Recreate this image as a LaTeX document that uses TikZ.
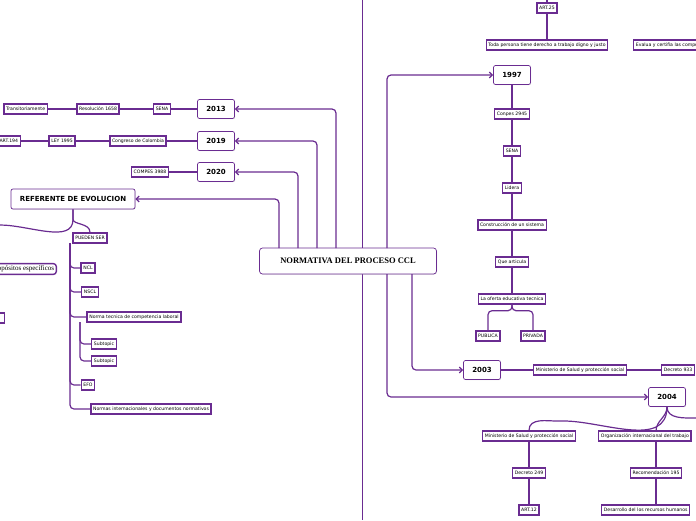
\documentclass[tikz,border=0pt]{standalone}
\usepackage{fontspec}
\setmainfont{DejaVu Sans}
\newfontfamily\titlefont{Liberation Serif}
\usetikzlibrary{positioning,shadows,arrows.meta}
\definecolor{violeta}{HTML}{6A2C91}

\begin{document}
\begin{tikzpicture}[x=1pt,y=-1pt,
    tema/.style={draw=violeta,line width=1.4pt,fill=white,inner sep=2.2pt,
                 font=\fontsize{4.6}{5}\selectfont,minimum height=10pt},
    anio/.style={draw=violeta,line width=0.7pt,rounded corners=2pt,fill=white,
                 drop shadow={opacity=0.25,shadow xshift=0.5pt,shadow yshift=-0.7pt},
                 font=\fontsize{7}{8}\selectfont\bfseries,minimum width=37pt,minimum height=19pt},
    lazo/.style={draw=violeta,line width=1.2pt,rounded corners=4pt},
    flecha/.style={lazo,-{Straight Barb[length=3pt,width=6pt]}}]
  \useasboundingbox (0,0) rectangle (696,520);
  \clip (0,0) rectangle (696,520);

  \draw[violeta,line width=1pt] (362,0) -- (362,520);

  % centro
  \node[draw=violeta,line width=0.7pt,rounded corners=3pt,fill=white,
        drop shadow={opacity=0.25,shadow xshift=0.5pt,shadow yshift=-0.7pt},
        minimum width=177pt,minimum height=26pt,font=\titlefont\fontsize{8.5}{9}\selectfont\bfseries]
        (centro) at (348,261) {NORMATIVA DEL PROCESO CCL};

  % izquierda
  \node[anio] (a2013) at (216,109) {2013};
  \node[anio] (a2019) at (216,141) {2019};
  \node[anio] (a2020) at (216,172) {2020};
  \node[anio,minimum width=124pt,minimum height=20pt] (referente) at (73,199) {REFERENTE DE EVOLUCION};

  \node[tema] (sena1) at (162,109) {SENA};
  \node[tema] (resol) at (98,109) {Resolución 1658};
  \node[tema,anchor=east] (transit) at (48,109) {Transitoriamente};
  \node[tema] (congreso) at (138,141) {Congreso de Colombia};
  \node[tema] (ley) at (62,141) {LEY 1995};
  \node[tema,anchor=east] (art194) at (21,141) {ART.194};
  \node[tema] (compes) at (150,172) {COMPES 3988};

  \draw[flecha] (336,248) |- (a2013.east);
  \draw[flecha] (317,248) |- (a2019.east);
  \draw[flecha] (298,248) |- (a2020.east);
  \draw[flecha] (279,248) |- (referente.east);
  \draw[lazo] (a2013) -- (sena1) -- (resol) -- (transit);
  \draw[lazo] (a2019) -- (congreso) -- (ley) -- (art194);
  \draw[lazo] (a2020) -- (compes);

  \node[tema] (pueden) at (90,238) {PUEDEN SER};
  \node[tema,anchor=east,font=\titlefont\fontsize{7}{8}\selectfont,rounded corners=3pt] (propositos) at (57,269) {Propósitos específicos};
  \node[tema,anchor=east,minimum width=20pt] (otro) at (5,318) {};
  \draw[lazo] (referente.south) -- ++(0,6) to[out=-90,in=90] (pueden.north);
  \draw[lazo] (referente.south) -- ++(0,6) to[out=-90,in=0] (0,225);

  \node[tema] (ncl) at (88,268) {NCL};
  \node[tema] (nscl) at (90,292) {NSCL};
  \node[tema] (ntcl) at (134,317) {Norma tecnica de competencia laboral};
  \node[tema] (sub1) at (104,344) {Subtopic};
  \node[tema] (sub2) at (104,361) {Subtopic};
  \node[tema] (efo) at (88,385) {EFO};
  \node[tema] (normas) at (151,409) {Normas internacionales y documentos normativos};
  \foreach \hijo in {ncl,nscl,ntcl,efo,normas}
    \draw[lazo] (70,243) |- (\hijo.west);
  \foreach \hijo in {sub1,sub2}
    \draw[lazo] (80,322) |- (\hijo.west);

  % derecha
  \node[tema] (art25) at (547,8) {ART.25};
  \node[tema] (toda) at (547,45) {Toda persona tiene derecho a trabajo digno y justo};
  \node[tema,anchor=west] (evalua) at (633,45) {Evalua y certifia las competencias};
  \draw[lazo] (547,0) -- (art25) -- (toda);

  \node[anio] (a1997) at (512,75) {1997};
  \node[tema] (conpes) at (512,114) {Conpes 2945};
  \node[tema] (sena2) at (512,151) {SENA};
  \node[tema] (lidera) at (512,188) {Lidera};
  \node[tema] (constru) at (512,225) {Construcción de un sistema};
  \node[tema] (articula) at (512,262) {Que articula};
  \node[tema] (oferta) at (512,299) {La oferta educativa tecnica};
  \node[tema] (publica) at (488,336) {PUBLICA};
  \node[tema] (privada) at (533,336) {PRIVADA};
  \draw[flecha] (387,248) |- (a1997.west);
  \draw[lazo] (a1997) -- (conpes) -- (sena2) -- (lidera) -- (constru) -- (articula) -- (oferta);
  \draw[lazo] (oferta.south) -- ++(0,6) -| (publica.north);
  \draw[lazo] (oferta.south) -- ++(0,6) -| (privada.north);

  \node[anio] (a2003) at (482,370) {2003};
  \node[tema] (minis1) at (580,370) {Ministerio de Salud y protección social};
  \node[tema,anchor=west] (dec93) at (661,370) {Decreto 933};
  \draw[flecha] (412,274) |- (a2003.west);
  \draw[lazo] (a2003) -- (minis1) -- (dec93);

  \node[anio] (a2004) at (667,397) {2004};
  \node[tema] (minis2) at (529,436) {Ministerio de Salud y protección social};
  \node[tema,anchor=west] (oit) at (598,436) {Organización internacional del trabajo};
  \node[tema] (dec249) at (529,473) {Decreto 249};
  \node[tema] (art12) at (529,510) {ART.12};
  \node[tema] (recom) at (656,473) {Recomendación 195};
  \node[tema,anchor=west] (desarrollo) at (601,510) {Desarrollo del los recursos humanos};
  \draw[flecha] (387,274) |- (a2004.west);
  \draw[lazo] (a2004.south) to[out=-90,in=0] (560,421) to[out=180,in=90] (minis2.north);
  \draw[lazo] (a2004.south) to[out=-90,in=90] (656,431);
  \draw[lazo] (a2004.south) to[out=-90,in=180] (696,418);
  \draw[lazo] (minis2) -- (dec249) -- (art12);
  \draw[lazo] (656,441) -- (recom) -- (656,505);
\end{tikzpicture}
\end{document}
